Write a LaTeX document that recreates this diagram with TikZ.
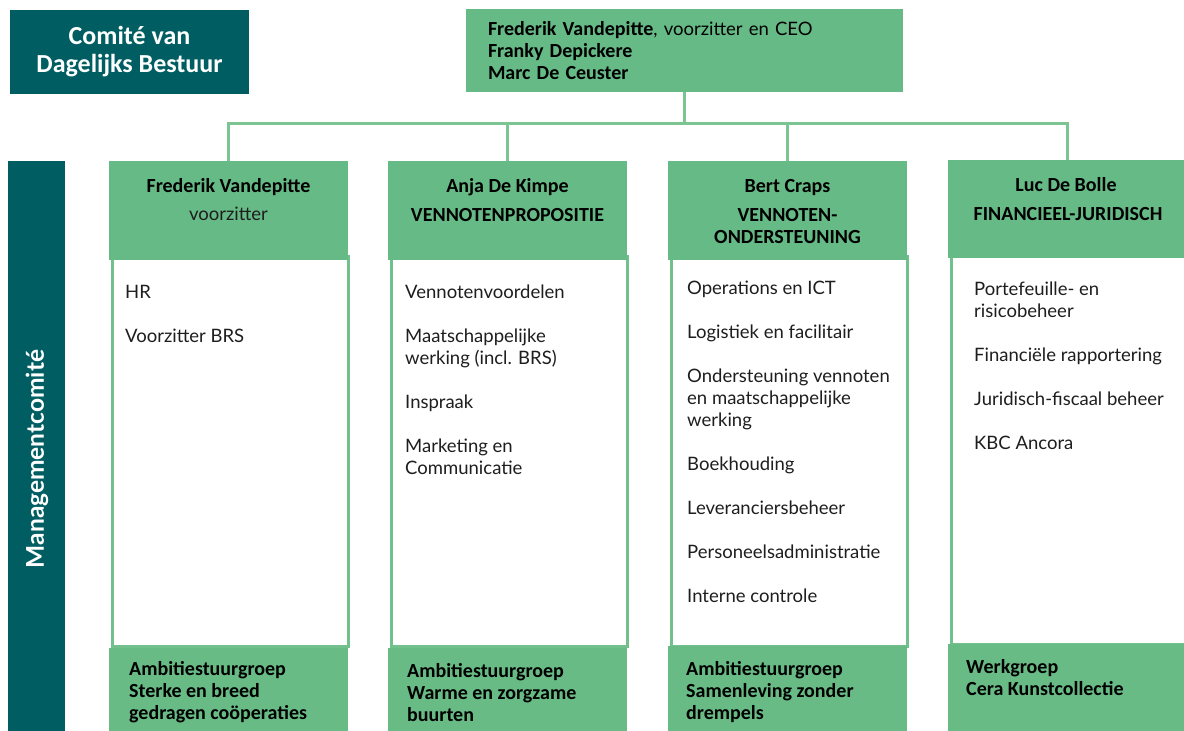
\documentclass[tikz,border=0pt]{standalone}
\usepackage{fontspec}
\setmainfont{Lato}
\newfontfamily\cf{Carlito}
\definecolor{teal}{HTML}{005E63}
\definecolor{hgreen}{HTML}{66BA86}
\definecolor{fgreen}{HTML}{68BB84}
\definecolor{bgreen}{HTML}{72C08C}
\definecolor{cgreen}{HTML}{7CC492}
\definecolor{txt}{HTML}{1E1E1E}
\begin{document}
\begin{tikzpicture}[x=1pt,y=-1pt,
  tealbox/.style={fill=teal, draw=none, inner sep=0pt},
  hdrbox/.style={fill=hgreen, draw=none, anchor=north west, minimum width=239pt, minimum height=99pt, inner sep=0pt},
  bodybox/.style={fill=white, draw=bgreen, line width=3pt, anchor=north west, minimum width=236pt, minimum height=390pt, inner sep=0pt},
  footbox/.style={fill=fgreen, draw=none, anchor=north west, minimum width=239pt, minimum height=90pt, inner sep=0pt},
  conn/.style={draw=cgreen, line width=3pt},
  nametxt/.style={anchor=base, inner sep=0pt, font=\cf\bfseries\fontsize{20}{22}\selectfont, text=black, align=center},
  subtxt/.style={anchor=base, inner sep=0pt, font=\fontsize{18.5}{22}\selectfont, text=txt},
  bodytxt/.style={anchor=north west, inner sep=0pt, align=left, font=\fontsize{18.5}{22}\selectfont, text=txt},
  foottxt/.style={anchor=north west, inner sep=0pt, align=left, font=\cf\bfseries\fontsize{20}{22}\selectfont, text=black},
]
\useasboundingbox (0,0) rectangle (1184,731);

% Comite van Dagelijks Bestuur
\node[tealbox, minimum width=239pt, minimum height=84pt, align=center,
      text=white, font=\cf\bfseries\fontsize{26}{28}\selectfont] (cdb) at (129.5,51.5) {Comité van\\Dagelijks Bestuur};

% top box
\node[fill=hgreen, draw=none, minimum width=437pt, minimum height=83pt, text width=393pt,
      inner xsep=22pt, inner ysep=0pt, align=left, font=\fontsize{18.5}{22}\selectfont, text=black] (top) at (684.5,50.5)
  {{\cf\bfseries\fontsize{20}{22}\selectfont Frederik Vandepitte}, voorzitter en CEO\\
   {\cf\bfseries\fontsize{20}{22}\selectfont Franky Depickere}\\
   {\cf\bfseries\fontsize{20}{22}\selectfont Marc De Ceuster}};

% Managementcomite side bar
\fill[teal] (8,161) rectangle (65,735);
\node[rotate=90, inner sep=0pt, text=white, font=\bfseries\fontsize{24.5}{26}\selectfont] (mc) at (37,459) {Managementcomité};

% columns: bodies first
\node[bodybox] (b1) at (110.5,255) {};
\node[bodybox] (b2) at (389.5,255) {};
\node[bodybox] (b3) at (669.5,255) {};
\node[bodybox] (b4) at (949.5,253) {};

\node[hdrbox] (h1) at (109,161) {};
\node[hdrbox] (h2) at (388,161) {};
\node[hdrbox] (h3) at (668,161) {};
\node[hdrbox, minimum height=98pt] (h4) at (948,160) {};

\node[footbox] (f1) at (109,648) {};
\node[footbox] (f2) at (388,648) {};
\node[footbox] (f3) at (668,646) {};
\node[footbox, minimum height=95pt] (f4) at (948,644) {};

% connectors
\coordinate (bus) at (684.5,123);
\draw[conn] (top.south) -- (bus);
\draw[conn] (bus) -| (h1.north);
\draw[conn] (bus) -| (h2.north);
\draw[conn] (bus) -| (h3.north);
\draw[conn] (bus) -| (h4.north);

% header texts
\node[nametxt] (n1) at (228.5,192.5) {Frederik Vandepitte};
\node[subtxt] (s1) at (228.5,220.5) {voorzitter};
\node[nametxt] (n2) at (507.5,192.5) {Anja De Kimpe};
\node[nametxt] (s2) at (507.5,221) {VENNOTENPROPOSITIE};
\node[nametxt] (n3) at (787.5,192.5) {Bert Craps};
\node[nametxt] (s3) at (787.5,243.5) {VENNOTEN-\\ONDERSTEUNING};
\node[nametxt] (n4) at (1066,191.5) {Luc De Bolle};
\node[nametxt] (s4) at (1068,220.5) {FINANCIEEL-JURIDISCH};

% body texts
\node[bodytxt] (t1) at (125,285) {HR\\[22pt]Voorzitter BRS};
\node[bodytxt] (t2) at (405,285) {Vennotenvoordelen\\[22pt]Maatschappelijke\\werking (incl. BRS)\\[22pt]Inspraak\\[22pt]Marketing en\\Communicatie};
\node[bodytxt] (t3) at (687,281) {Operations en ICT\\[22pt]Logistiek en facilitair\\[22pt]Ondersteuning vennoten\\en maatschappelijke\\werking\\[22pt]Boekhouding\\[22pt]Leveranciersbeheer\\[22pt]Personeelsadministratie\\[22pt]Interne controle};
\node[bodytxt] (t4) at (974,282) {Portefeuille- en\\risicobeheer\\[22pt]Financiële rapportering\\[22pt]Juridisch-fiscaal beheer\\[22pt]KBC Ancora};

% footer texts
\node[foottxt] (ft1) at (129,661) {Ambitiestuurgroep\\Sterke en breed\\gedragen coöperaties};
\node[foottxt] (ft2) at (407,663) {Ambitiestuurgroep\\Warme en zorgzame\\buurten};
\node[foottxt] (ft3) at (686,661) {Ambitiestuurgroep\\Samenleving zonder\\drempels};
\node[foottxt] (ft4) at (966,659) {Werkgroep\\Cera Kunstcollectie};
\end{tikzpicture}
\end{document}
